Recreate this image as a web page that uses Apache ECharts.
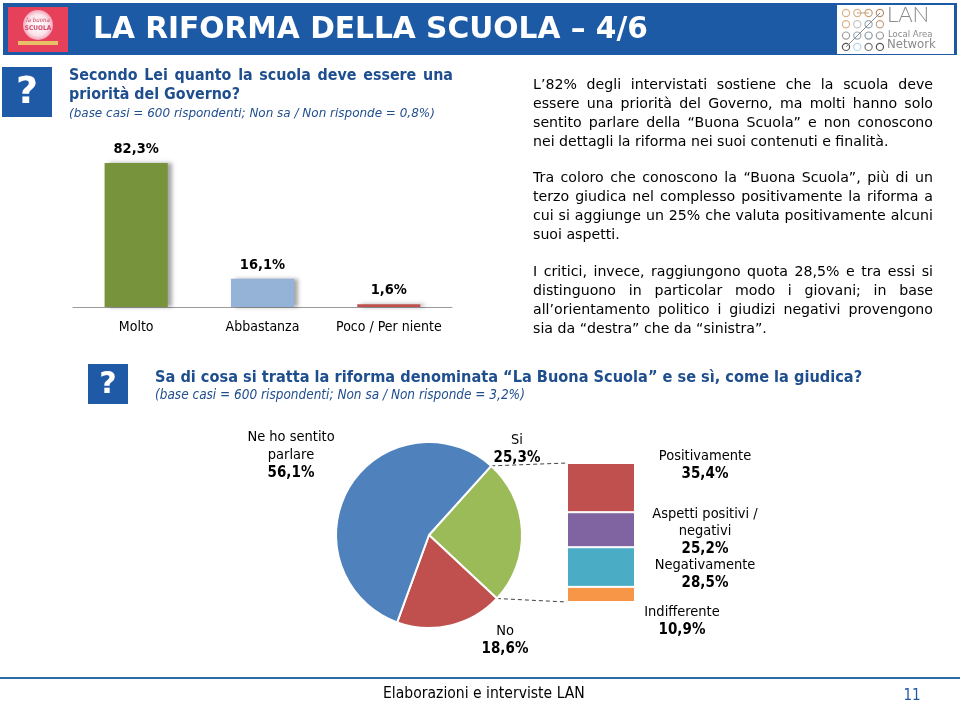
<!DOCTYPE html>
<html><head><meta charset="utf-8">
<script src="https://cdn.jsdelivr.net/npm/echarts@6/dist/echarts.min.js"></script>
<style>html,body{margin:0;padding:0;background:#fff}#c{width:960px;height:707px}</style>
</head><body><div id="c"></div>
<script>
// ---------------- DATA ----------------
const barCategories = ['Molto', 'Abbastanza', 'Poco / Per niente'];
const barValues = [82.3, 16.1, 1.6];
const pieNames = ['Si', 'No', 'Ne ho sentito parlare'];
const pieLabelText = ['Si', 'No', 'Ne ho sentito\nparlare'];
const pieValues = [25.3, 18.6, 56.1];
const judgeNames = ['Positivamente', 'Aspetti positivi / negativi', 'Negativamente', 'Indifferente'];
const judgeLabelText = ['Positivamente', 'Aspetti positivi /\nnegativi', 'Negativamente', 'Indifferente'];
const judgeValues = [35.4, 25.2, 28.5, 10.9];

const titleText = 'LA RIFORMA DELLA SCUOLA – 4/6';
const q1Lines = ['Secondo Lei quanto la scuola deve essere una', 'priorità del Governo?'];
const q1Sub = '(base casi = 600 rispondenti; Non sa / Non risponde = 0,8%)';
const q2Text = 'Sa di cosa si tratta la riforma denominata “La Buona Scuola” e se sì, come la giudica?';
const q2Sub = '(base casi = 600 rispondenti; Non sa / Non risponde = 3,2%)';
const paragraphs = [
  ['L’82% degli intervistati sostiene che la scuola deve',
   'essere una priorità del Governo, ma molti hanno solo',
   'sentito parlare della “Buona Scuola” e non conoscono',
   'nei dettagli la riforma nei suoi contenuti e finalità.'],
  ['Tra coloro che conoscono la “Buona Scuola”, più di un',
   'terzo giudica nel complesso positivamente la riforma a',
   'cui si aggiunge un 25% che valuta positivamente alcuni',
   'suoi aspetti.'],
  ['I critici, invece, raggiungono quota 28,5% e tra essi si',
   'distinguono in particolar modo i giovani; in base',
   'all’orientamento politico i giudizi negativi provengono',
   'sia da “destra” che da “sinistra”.']
];
const footerText = 'Elaborazioni e interviste LAN';
const pageNumber = '11';

// ---------------- STYLE ----------------
const FF = '"DejaVu Sans Condensed","DejaVu Sans",sans-serif';
const FW = '"DejaVu Sans",sans-serif';
const BLUE = '#1f5aa6';
const DARKBLUE = '#1f4e8f';
const barColors = ['#77933c', '#95b3d7', '#c0504d'];
const pieColors = ['#9bbb59', '#c0504d', '#4f81bd'];
const judgeColors = ['#c0504d', '#8064a2', '#4bacc6', '#f79646'];
const fmt = v => v.toFixed(1).replace('.', ',') + '%';

const mctx = document.createElement('canvas').getContext('2d');
function fontStr(size, weight, style, fam) { return (style || 'normal') + ' ' + (weight || 'normal') + ' ' + size.toFixed(2) + 'px ' + (fam || FF); }
function tw(t, f) { mctx.font = f; return mctx.measureText(t).width; }
function fitSize(texts, target, maxSize, weight, style, fam) {
  let w = 0; texts.forEach(t => { w = Math.max(w, tw(t, fontStr(maxSize, weight, style, fam))); });
  return Math.min(maxSize, maxSize * target / w);
}
const G = [];
function txt(t, x, y, font, fill, align) {
  G.push({ type: 'text', x: x, y: y, silent: true,
    style: { text: t, font: font, fill: fill, align: align || 'left', verticalAlign: 'middle',
             textAlign: align || 'left', textVerticalAlign: 'middle' } });
}
function justifyLine(t, x, y, width, font, fill) {
  const words = t.split(' ');
  const ws = words.map(w => tw(w, font));
  const total = ws.reduce((a, b) => a + b, 0);
  const gap = (width - total) / (words.length - 1);
  let cx = x;
  words.forEach((w, i) => { txt(w, cx, y, font, fill, 'left'); cx += ws[i] + gap; });
}

// Header band
G.push({ type: 'rect', shape: { x: 3, y: 3, width: 954, height: 52 }, style: { fill: '#1d5aa6' } });
// left logo
G.push({ type: 'rect', shape: { x: 8, y: 7, width: 60, height: 45 }, style: { fill: '#e6405a' } });
G.push({ type: 'circle', shape: { cx: 38, cy: 25, r: 15 },
  style: { fill: new echarts.graphic.RadialGradient(0.5, 0.5, 0.5, [{ offset: 0, color: '#ffffff' }, { offset: 0.7, color: '#fbe3ea' }, { offset: 1, color: '#f4a3b6' }]) } });
txt('la buona', 38, 20, 'italic normal 6px ' + FF, '#c8385a', 'center');
txt('SCUOLA', 38, 28, 'normal bold 6.5px ' + FF, '#d2486a', 'center');
G.push({ type: 'rect', shape: { x: 18, y: 41, width: 40, height: 4 }, style: { fill: '#e8c068' } });
// title
const tSize = fitSize([titleText], 555, 32, 'bold', 'normal', FW);
txt(titleText, 93, 30, fontStr(tSize, 'bold', 'normal', FW), '#ffffff', 'left');
// LAN logo
G.push({ type: 'rect', shape: { x: 837, y: 5, width: 117, height: 49 }, style: { fill: '#ffffff' } });
const dotCols = [['#d9b48a', '#d9b48a', '#c9a27a', '#b8906a'], ['#d9b48a', '#c8c8c8', '#9aa8b4', '#c8a080'], ['#a0a0a0', '#9aa8b4', '#8a98a8', '#9a9a9a'], ['#555555', '#b8d4e8', '#777777', '#555555']];
for (let r = 0; r < 4; r++) for (let c = 0; c < 4; c++) {
  G.push({ type: 'circle', shape: { cx: 846 + c * 11.3, cy: 13 + r * 11.3, r: 3.6 }, style: { fill: '#fff', stroke: dotCols[r][c], lineWidth: 1.2 } });
}
G.push({ type: 'line', shape: { x1: 846, y1: 47, x2: 880, y2: 13 }, style: { stroke: '#8a8a8a', lineWidth: 1 } });
G.push({ type: 'line', shape: { x1: 857, y1: 13, x2: 869, y2: 13 }, style: { stroke: '#c9a27a', lineWidth: 1 } });
txt('LAN', 887, 15, 'normal 300 22px Lato,' + FF, '#8a8a8a', 'left');
txt('Local Area', 888, 35, 'normal normal 9.5px ' + FF, '#8a8a8a', 'left');
txt('Network', 887, 45, 'normal normal 13px ' + FF, '#8a8a8a', 'left');

// Question 1
G.push({ type: 'rect', shape: { x: 2, y: 67, width: 50, height: 50 }, style: { fill: BLUE } });
txt('?', 27, 93, 'normal bold 38px ' + FW, '#ffffff', 'center');
const q1Size = fitSize([q1Lines[0]], 372, 16.5, 'bold');
justifyLine(q1Lines[0], 69, 76, 384, fontStr(q1Size, 'bold'), DARKBLUE);
txt(q1Lines[1], 69, 95, fontStr(q1Size, 'bold'), DARKBLUE, 'left');
const q1sSize = fitSize([q1Sub], 366, 14, 'normal', 'italic', FW);
txt(q1Sub, 69, 114, fontStr(q1sSize, 'normal', 'italic', FW), DARKBLUE, 'left');

// Paragraphs
const pStarts = [85, 178, 272];
const justified = [];
paragraphs.forEach(p => p.slice(0, 3).forEach(l => justified.push(l)));
const pSize = fitSize(justified, 397, 15, 'normal', 'normal', FW);
paragraphs.forEach((p, pi) => {
  p.forEach((l, li) => {
    const y = pStarts[pi] + li * 19.2;
    if (li < 3) justifyLine(l, 533, y, 400, fontStr(pSize, 'normal', 'normal', FW), '#000');
    else txt(l, 533, y, fontStr(pSize, 'normal', 'normal', FW), '#000', 'left');
  });
});

// Question 2
G.push({ type: 'rect', shape: { x: 88, y: 364, width: 40, height: 40 }, style: { fill: BLUE } });
txt('?', 108, 385, 'normal bold 30px ' + FW, '#ffffff', 'center');
const q2Size = fitSize([q2Text], 707, 16.5, 'bold');
txt(q2Text, 155, 378, fontStr(q2Size, 'bold'), DARKBLUE, 'left');
const q2sSize = fitSize([q2Sub], 370, 13.5, 'normal', 'italic');
txt(q2Sub, 155, 395, fontStr(q2sSize, 'normal', 'italic'), DARKBLUE, 'left');

// connectors pie -> stacked bar
const PIE_C = [429, 535], PIE_R = 93, PIE_START = 48;
const pieSum = pieValues.reduce((a, b) => a + b, 0);
const a0 = PIE_START * Math.PI / 180;
const a1 = (PIE_START - pieValues[0] / pieSum * 360) * Math.PI / 180;
const SB = { left: 567, top: 463, width: 68, height: 139 };
G.push({ type: 'line', shape: { x1: PIE_C[0] + PIE_R * Math.cos(a0), y1: PIE_C[1] - PIE_R * Math.sin(a0), x2: SB.left, y2: SB.top },
  style: { stroke: '#404040', lineWidth: 1, lineDash: [4, 3] } });
G.push({ type: 'line', shape: { x1: PIE_C[0] + PIE_R * Math.cos(a1), y1: PIE_C[1] - PIE_R * Math.sin(a1), x2: SB.left, y2: SB.top + SB.height },
  style: { stroke: '#404040', lineWidth: 1, lineDash: [4, 3] } });

// Footer
G.push({ type: 'line', shape: { x1: 0, y1: 678, x2: 960, y2: 678 }, style: { stroke: '#2e6aa6', lineWidth: 2 } });
const fSize = fitSize([footerText], 202, 16, 'normal');
txt(footerText, 383, 694, fontStr(fSize), '#000', 'left');
txt(pageNumber, 912, 696, fontStr(15), BLUE, 'center');

// ---------------- CHART ----------------
const pieLabelPos = [[517, 449], [505, 640], [291, 455]];
const judgeLabelPos = [[705, 465], [705, 531.5], [705, 574], [682, 621]];

const chart = echarts.init(document.getElementById('c'), null, { renderer: 'canvas' });
chart.setOption({
  animation: false,
  textStyle: { fontFamily: FF },
  grid: [
    { left: 73, top: 132, width: 379, height: 175 },
    { left: SB.left, top: SB.top, width: SB.width, height: SB.height }
  ],
  xAxis: [
    { gridIndex: 0, type: 'category', data: barCategories,
      axisLine: { lineStyle: { color: '#9a9a9a', width: 1 } }, axisTick: { show: false },
      axisLabel: { color: '#000', fontSize: 14, margin: 13, fontFamily: FF, interval: 0 } },
    { gridIndex: 1, type: 'category', data: ['giudizio'], show: false }
  ],
  yAxis: [
    { gridIndex: 0, type: 'value', min: 0, max: 100, show: false },
    { gridIndex: 1, type: 'value', min: 0, max: 100, inverse: true, show: false }
  ],
  series: [
    { type: 'bar', xAxisIndex: 0, yAxisIndex: 0, barWidth: '50%', silent: true,
      data: barValues.map((v, i) => ({ value: v, itemStyle: { color: barColors[i] } })),
      itemStyle: { shadowColor: 'rgba(0,0,0,0.35)', shadowBlur: 4, shadowOffsetX: 4, shadowOffsetY: 0 },
      label: { show: true, position: 'top', distance: 6, color: '#000', fontWeight: 'bold', fontSize: 14.5, fontFamily: FF,
        formatter: p => fmt(p.value) } },
    ...judgeNames.map((n, i) => ({
      type: 'bar', name: n, xAxisIndex: 1, yAxisIndex: 1, stack: 'giudizio', barWidth: '100%', silent: true,
      data: [judgeValues[i]],
      itemStyle: { color: judgeColors[i], borderColor: '#ffffff', borderWidth: 1 },
      label: { show: true, position: 'right',
        formatter: () => judgeLabelText[i].split('\n').map(s => '{n|' + s + '}').join('\n') + '\n{v|' + fmt(judgeValues[i]) + '}',
        rich: { n: { fontSize: 14.5, lineHeight: 17.5, color: '#000', fontFamily: FF, align: 'center' },
                v: { fontSize: 15, lineHeight: 18, fontWeight: 'bold', color: '#000', fontFamily: FF, align: 'center' } } },
      labelLayout: () => ({ x: judgeLabelPos[i][0], y: judgeLabelPos[i][1], align: 'center', verticalAlign: 'middle' })
    })),
    { type: 'pie', center: PIE_C, radius: PIE_R, startAngle: PIE_START, clockwise: true, silent: true,
      avoidLabelOverlap: false,
      data: pieNames.map((n, i) => ({ name: n, value: pieValues[i], itemStyle: { color: pieColors[i] } })),
      itemStyle: { borderColor: '#ffffff', borderWidth: 2 },
      label: { show: true, position: 'outside',
        formatter: p => pieLabelText[p.dataIndex].split('\n').map(s => '{n|' + s + '}').join('\n') + '\n{v|' + fmt(p.value) + '}',
        rich: { n: { fontSize: 14.5, lineHeight: 18, color: '#000', fontFamily: FF, align: 'center' },
                v: { fontSize: 15, lineHeight: 18, fontWeight: 'bold', color: '#000', fontFamily: FF, align: 'center' } } },
      labelLine: { show: false },
      labelLayout: p => ({ x: pieLabelPos[p.dataIndex][0], y: pieLabelPos[p.dataIndex][1], align: 'center', verticalAlign: 'middle' }) }
  ],
  graphic: { elements: G }
});
</script></body></html>
